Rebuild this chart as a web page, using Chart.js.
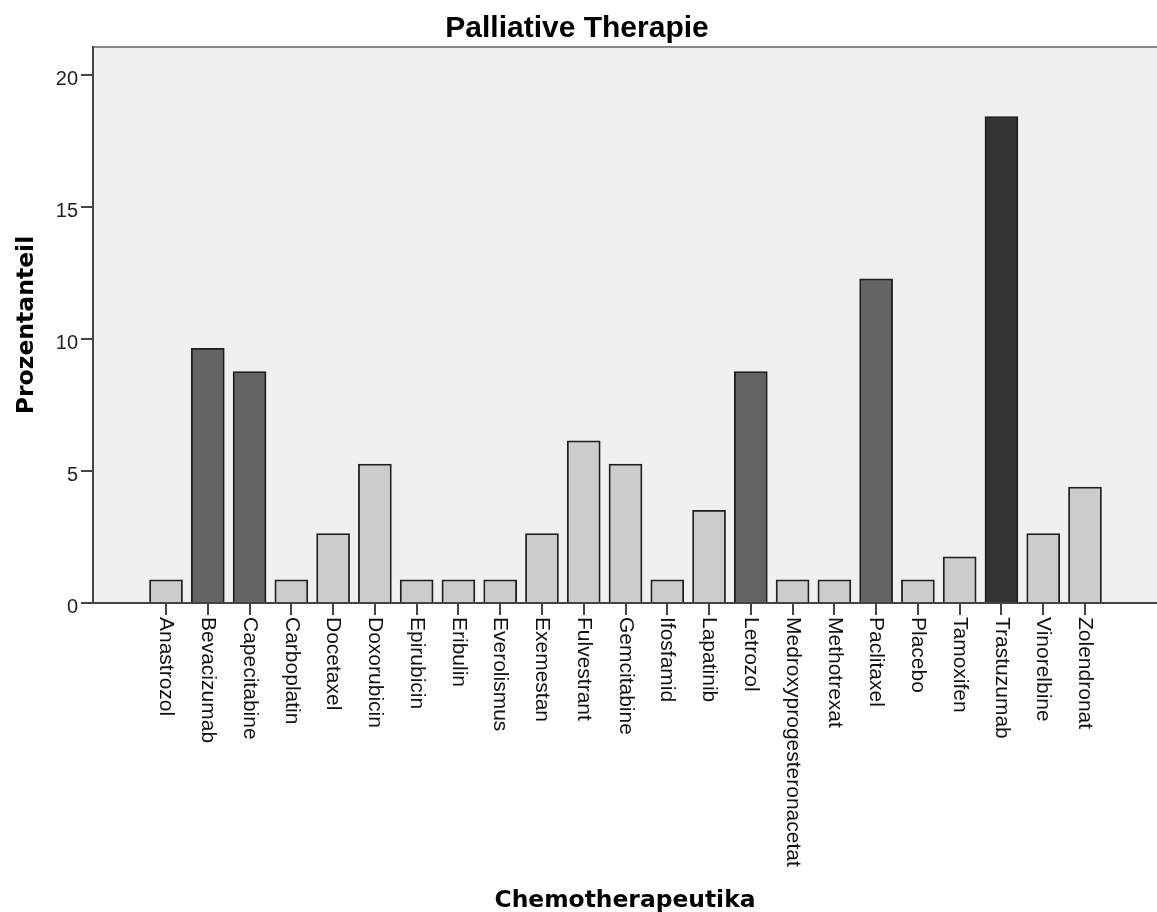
<!DOCTYPE html>
<html>
<head>
<meta charset="utf-8">
<title>Palliative Therapie</title>
<script src="https://cdn.jsdelivr.net/npm/chart.js@4.4.1/dist/chart.umd.min.js"></script>
<style>
  html, body { margin: 0; padding: 0; background: #fff; }
  canvas { display: block; }
</style>
</head>
<body>
<canvas id="chart" width="1157" height="912"></canvas>
<script>
// Chemotherapeutika, palliative Therapie (Prozentanteil)
const categories = [
  'Anastrozol', 'Bevacizumab', 'Capecitabine', 'Carboplatin', 'Docetaxel',
  'Doxorubicin', 'Epirubicin', 'Eribulin', 'Everolismus', 'Exemestan',
  'Fulvestrant', 'Gemcitabine', 'Ifosfamid', 'Lapatinib', 'Letrozol',
  'Medroxyprogesteronacetat', 'Methotrexat', 'Paclitaxel', 'Placebo',
  'Tamoxifen', 'Trastuzumab', 'Vinorelbine', 'Zolendronat'
];
const percents = [
  0.88, 9.65, 8.77, 0.88, 2.63,
  5.26, 0.88, 0.88, 0.88, 2.63,
  6.14, 5.26, 0.88, 3.51, 8.77,
  0.88, 0.88, 12.28, 0.88,
  1.75, 18.42, 2.63, 4.39
];
const yTicks = [0, 5, 10, 15, 20];

const titleText = 'Palliative Therapie';
const xTitle = 'Chemotherapeutika';
const yTitle = 'Prozentanteil';

function barColor(v) {
  if (v > 15) return '#333333';
  if (v > 8) return '#646464';
  return '#cccccc';
}

const framePlugin = {
  id: 'frame',
  beforeDraw(chart) {
    const { ctx, chartArea: a } = chart;
    ctx.save();
    ctx.fillStyle = '#f0f0f0';
    ctx.fillRect(a.left, a.top, a.right - a.left, a.bottom - a.top);
    ctx.strokeStyle = '#888888';
    ctx.lineWidth = 2;
    ctx.beginPath();
    ctx.moveTo(a.left, a.top);
    ctx.lineTo(a.right, a.top);
    ctx.stroke();
    ctx.restore();
  },
  afterDraw(chart) {
    const { ctx, chartArea: a } = chart;
    const xs = chart.scales.x;
    ctx.save();
    ctx.fillStyle = '#111';
    ctx.font = '21px "Liberation Sans", Arial, sans-serif';
    ctx.textAlign = 'left';
    ctx.textBaseline = 'middle';
    categories.forEach((c, i) => {
      ctx.save();
      ctx.translate(xs.getPixelForValue(i), a.bottom + 14);
      ctx.rotate(Math.PI / 2);
      ctx.fillText(c, 0, 0);
      ctx.restore();
    });

    ctx.fillStyle = '#000';
    ctx.textBaseline = 'alphabetic';
    ctx.textAlign = 'center';
    ctx.font = 'bold 30px "Liberation Sans", Arial, sans-serif';
    ctx.fillText(titleText, 577, 37);

    ctx.font = 'bold 23.4px "DejaVu Sans", sans-serif';
    ctx.fillText(xTitle, (a.left + a.right) / 2, 907);

    ctx.save();
    ctx.translate(33, (a.top + a.bottom) / 2);
    ctx.rotate(-Math.PI / 2);
    ctx.font = 'bold 23.5px "DejaVu Sans", sans-serif';
    ctx.fillText(yTitle, 0, 0);
    ctx.restore();
    ctx.restore();
  }
};

new Chart(document.getElementById('chart'), {
  type: 'bar',
  data: {
    datasets: [{
      data: categories.map((c, i) => ({ x: i, y: percents[i] })),
      backgroundColor: ctx => barColor(ctx.raw ? ctx.raw.y : 0),
      borderColor: '#1e1e1e',
      borderWidth: 1.8,
      borderSkipped: 'start',
      barThickness: 33
    }]
  },
  options: {
    responsive: false,
    animation: false,
    devicePixelRatio: 1,
    layout: { padding: { top: 47, right: 0, bottom: 0, left: 0 } },
    plugins: {
      legend: { display: false },
      title: { display: false },
      tooltip: { enabled: false }
    },
    scales: {
      x: {
        type: 'linear',
        offset: false,
        min: -1.748,
        max: 23.724,
        afterBuildTicks: s => { s.ticks = categories.map((c, i) => ({ value: i })); },
        afterFit: s => { s.height = 309; },
        ticks: { display: false },
        grid: {
          offset: false,
          drawOnChartArea: false,
          drawTicks: true,
          tickLength: 12,
          color: '#444444',
          lineWidth: 2
        },
        border: { display: true, color: '#444444', width: 2 }
      },
      y: {
        min: 0,
        max: 21.06,
        afterBuildTicks: s => { s.ticks = yTicks.map(v => ({ value: v })); },
        afterFit: s => { s.width = 93; },
        ticks: {
          color: '#222',
          font: { family: '"Liberation Sans", Arial, sans-serif', size: 20 },
          padding: 3,
          labelOffset: 4
        },
        grid: {
          drawOnChartArea: false,
          drawTicks: true,
          tickLength: 12,
          color: '#444444',
          lineWidth: 2
        },
        border: { display: true, color: '#444444', width: 2 }
      }
    }
  },
  plugins: [framePlugin]
});
</script>
</body>
</html>
